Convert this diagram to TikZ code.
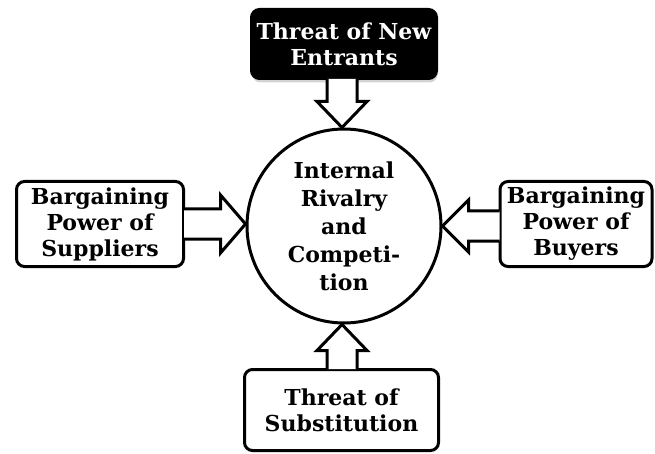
\documentclass[tikz,border=0pt]{standalone}
\usepackage{fontspec}
\setmainfont{DejaVu Serif}
\usetikzlibrary{calc,shadows}

\tikzset{
  forcebox/.style={draw,line width=3pt,rounded corners=8pt,fill=white,align=center,inner sep=0pt,
    font=\fontsize{22}{26}\selectfont\bfseries},
  hubnode/.style={circle,draw,line width=3pt,fill=white,inner sep=0pt,minimum size=194pt,align=center,
    font=\fontsize{22}{28}\selectfont\bfseries},
  fatarrow/.style={draw,line width=3pt,line join=miter,fill=white}
}

\begin{document}
\begin{tikzpicture}[x=1pt,y=-1pt]
\path[use as bounding box] (0,0) rectangle (655,454);
% forces
\node[forcebox,fill=black,text=white,minimum width=185pt,minimum height=69pt,
  drop shadow={shadow xshift=1pt,shadow yshift=-4pt,opacity=0.35}] (newent) at (344,44) {Threat of New\\Entrants};
\node[forcebox,minimum width=167pt,minimum height=85pt] (supp) at (100,224) {Bargaining\\Power of\\Suppliers};
\node[forcebox,minimum width=152pt,minimum height=85pt] (buyer) at (576,224) {Bargaining\\Power of\\Buyers};
\node[forcebox,minimum width=194pt,minimum height=81pt] (subst) at (341.5,410) {Threat of\\Substitution};
\node[hubnode] (hub) at (344,226) {Internal\\Rivalry\\and\\Competi-\\tion};
% block arrows into the hub
\coordinate (topfoot) at ($(newent.south -| hub.north)+(-2,-1)$);
\coordinate (toptip) at ($(hub.north)+(-2,0)$);
\draw[fatarrow] ($(topfoot)+(-15,0)$) -- ($(toptip)+(-15,-26)$) -- ($(toptip)+(-25,-26)$) -- (toptip)
  -- ($(toptip)+(25,-26)$) -- ($(toptip)+(15,-26)$) -- ($(topfoot)+(15,0)$);
\coordinate (leftfoot) at ($(supp.east |- hub.west)+(-1,-2)$);
\coordinate (lefttip) at ($(hub.west)+(0,-2)$);
\draw[fatarrow] ($(leftfoot)+(0,-15)$) -- ($(lefttip)+(-25,-15)$) -- ($(lefttip)+(-25,-29)$) -- (lefttip)
  -- ($(lefttip)+(-25,29)$) -- ($(lefttip)+(-25,15)$) -- ($(leftfoot)+(0,15)$);
\coordinate (rightfoot) at ($(buyer.west |- hub.east)+(1,0)$);
\draw[fatarrow] ($(rightfoot)+(0,-15)$) -- ($(hub.east)+(26,-15)$) -- ($(hub.east)+(26,-26)$) -- (hub.east)
  -- ($(hub.east)+(26,26)$) -- ($(hub.east)+(26,15)$) -- ($(rightfoot)+(0,15)$);
\coordinate (botfoot) at ($(subst.north -| hub.south)+(-2,1)$);
\coordinate (bottip) at ($(hub.south)+(-2,0)$);
\draw[fatarrow] ($(botfoot)+(-15,0)$) -- ($(bottip)+(-15,26)$) -- ($(bottip)+(-25,26)$) -- (bottip)
  -- ($(bottip)+(25,26)$) -- ($(bottip)+(15,26)$) -- ($(botfoot)+(15,0)$);
\end{tikzpicture}
\end{document}
